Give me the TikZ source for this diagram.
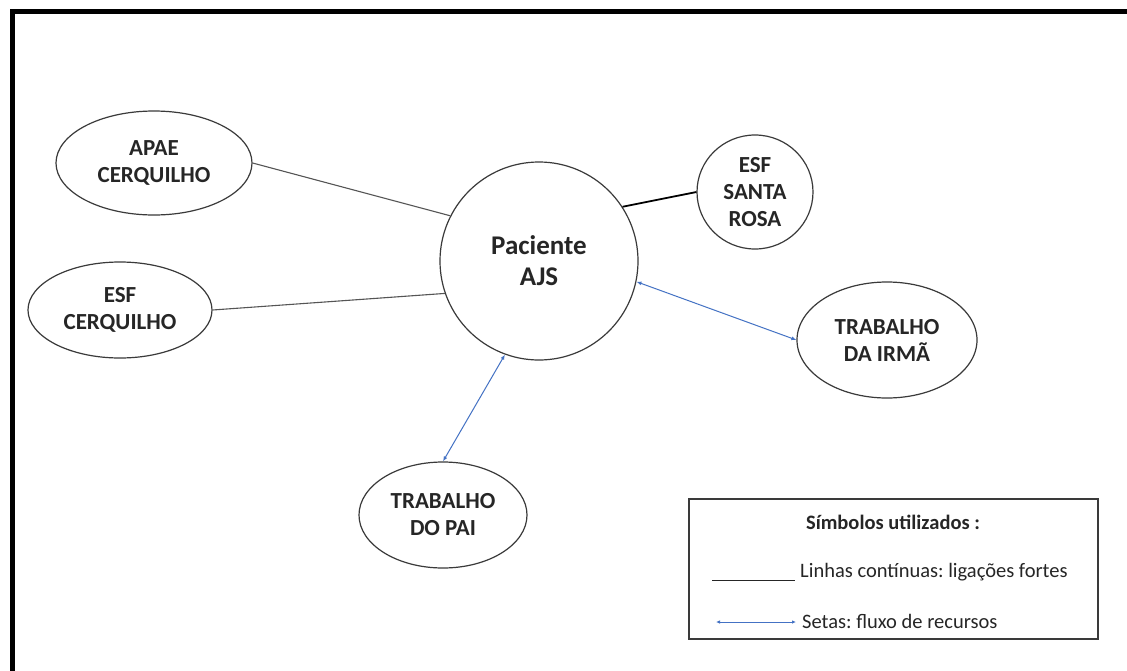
\documentclass[tikz,border=0pt]{standalone}
\usepackage{fontspec}
\setmainfont{Carlito}
\frenchspacing
\usetikzlibrary{shapes.geometric,arrows.meta}
\definecolor{edgegray}{HTML}{3A3A3A}
\definecolor{linegray}{HTML}{555555}
\definecolor{arrowblue}{HTML}{4472C4}
\begin{document}
\begin{tikzpicture}[x=1pt,y=-1pt,
  bub/.style={ellipse,draw=edgegray,line width=1.2pt,align=center,inner sep=0pt,
    font=\bfseries\fontsize{23}{27}\selectfont,text=black!85},
  strong/.style={draw=linegray,line width=1.1pt},
  flow/.style={draw=arrowblue,line width=1pt,{Latex[length=5pt,width=4pt]}-{Latex[length=5pt,width=4pt]}},
  legtxt/.style={font=\fontsize{20.5}{24}\selectfont,text=black!85,anchor=west,inner sep=0pt}]
\useasboundingbox (0,0) rectangle (1127,670);
\fill[white] (0,0) rectangle (1127,670);
% frame
\draw[line width=5pt,line cap=rect] (12,670) -- (12,11) -- (1130,11);
% nodes
\node[circle,draw=edgegray,line width=1.2pt,minimum size=198pt,align=center,
  font=\bfseries\fontsize{27}{31}\selectfont,text=black!85] (pac) at (539,261) {Paciente\\AJS};
\node[bub,minimum width=196pt,minimum height=104pt] (apae) at (154,163) {APAE\\CERQUILHO};
\node[bub,minimum width=184pt,minimum height=96pt] (esfc) at (120,310) {ESF\\CERQUILHO};
\node[bub,minimum width=116pt,minimum height=114pt] (esfs) at (755,192) {ESF\\SANTA\\ROSA};
\node[bub,minimum width=180pt,minimum height=116pt] (irma) at (887,340) {TRABALHO\\DA IRMÃ};
\node[bub,minimum width=168pt,minimum height=106pt] (pai) at (443,515) {TRABALHO\\DO PAI};
% connectors
\draw[strong] (apae.east) -- (pac.153);
\draw[strong] (esfc.east) -- (pac.199);
\draw[draw=black,line width=1.8pt] (pac.33) -- (esfs.west);
\draw[flow] (pac.-12) -- (irma.west);
\draw[flow] (pac.250) -- (pai.north);
% legend
\node[draw=edgegray,line width=1.3pt,minimum width=409pt,minimum height=140pt,inner sep=0pt] (leg) at (893.5,569) {};
\node[font=\bfseries\fontsize{20.5}{24}\selectfont,text=black!85] (legt) at (893,522) {Símbolos utilizados :};
\coordinate (l1a) at (712,580);
\coordinate (l1b) at (795,580);
\draw[draw=black!85,line width=1pt] (l1a) -- (l1b);
\node[legtxt] (lt1) at (800,572) {Linhas contínuas: ligações fortes};
\coordinate (l2a) at (716,622);
\coordinate (l2b) at (796,622);
\draw[draw=arrowblue,line width=1pt,{Latex[length=4pt,width=3.5pt]}-{Latex[length=4pt,width=3.5pt]}] (l2a) -- (l2b);
\node[legtxt] (lt2) at (802,621) {Setas: fluxo de recursos};
\end{tikzpicture}
\end{document}
